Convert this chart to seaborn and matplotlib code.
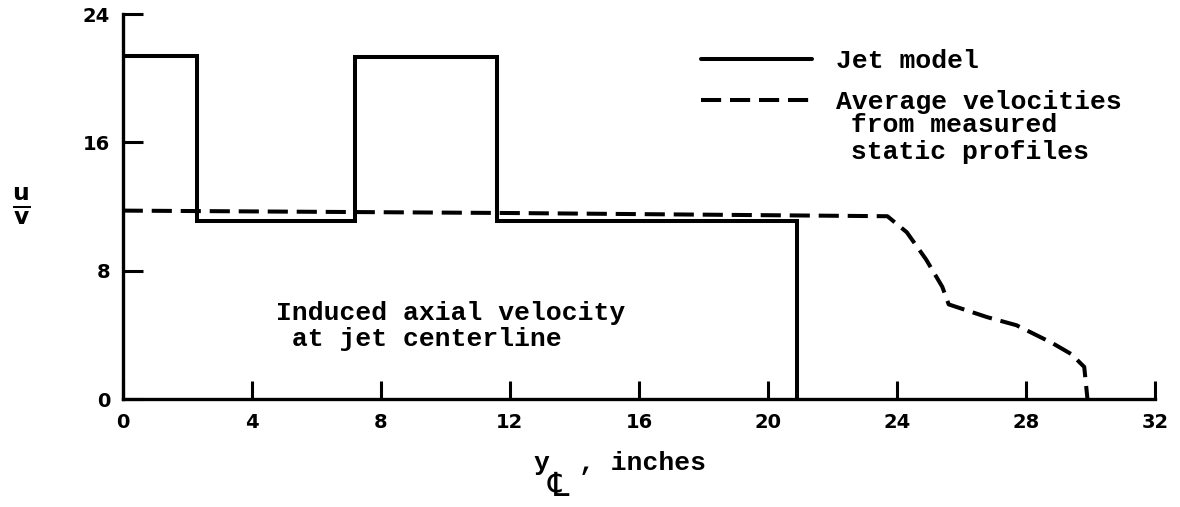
import matplotlib
matplotlib.use('Agg')
import matplotlib.pyplot as plt
import seaborn as sns

# Jet model (step profile), y in inches vs u/v
jet_y = [0.0, 2.3, 7.2, 11.6, 20.9]
jet_u = [21.4, 11.1, 21.3, 11.1, 0.0]

# Average velocities from measured static profiles
avg_y = [0.0, 12.0, 23.7, 24.3, 24.9, 25.4, 25.6, 26.8, 27.7, 28.8, 29.4, 29.8, 29.9]
avg_u = [11.75, 11.6, 11.4, 10.4, 8.7, 7.0, 5.9, 5.1, 4.6, 3.5, 2.8, 2.0, 0.0]

x_ticks = [0, 4, 8, 12, 16, 20, 24, 28, 32]
y_ticks = [0, 8, 16, 24]

sns.set_style('white')
plt.rcParams['font.family'] = ['Liberation Mono', 'DejaVu Sans']
plt.rcParams['text.color'] = 'black'

fig = plt.figure(figsize=(11.8, 5.07), dpi=100)
ax = fig.add_axes([0.104, 0.213, 0.875, 0.759])

lw = 2.9
sns.lineplot(x=jet_y, y=jet_u, ax=ax, color='black', lw=lw, sort=False,
             estimator=None, drawstyle='steps-post', label='Jet model',
             solid_joinstyle='miter')
sns.lineplot(x=avg_y, y=avg_u, ax=ax, color='black', lw=lw, sort=False,
             estimator=None, linestyle=(0, (5, 2.2)),
             label='Average velocities')

ax.set_xlim(0, 32)
ax.set_ylim(0, 24)
ax.set_xticks(x_ticks)
ax.set_yticks(y_ticks)
for side in ['top', 'right']:
    ax.spines[side].set_visible(False)
for side in ['left', 'bottom']:
    ax.spines[side].set_linewidth(2.4)
    ax.spines[side].set_color('black')

ax.tick_params(axis='x', bottom=True, direction='in', length=13, width=2.2, pad=10,
               labelsize=14, colors='black')
ax.tick_params(axis='y', left=True, direction='in', length=14.5, width=2.2, pad=9,
               labelsize=14, colors='black')
for lab in ax.get_xticklabels() + ax.get_yticklabels():
    lab.set_fontfamily('DejaVu Sans')
    lab.set_fontweight('bold')

ax.set_xlabel('')
ax.set_ylabel('')
fig.text(0.452, 0.087, 'y', fontsize=19, fontweight='bold', ha='left', va='center')
fig.text(0.464, 0.041, '\u2104', fontsize=24, family=['DejaVu Sans'], ha='left', va='center')
fig.text(0.491, 0.087, ', inches', fontsize=19, fontweight='bold', ha='left', va='center')
fig.text(0.018, 0.593, r'$\frac{\mathbf{u}}{\mathbf{v}}$', fontsize=24, ha='center', va='center')

ax.text(4.75, 4.55, 'Induced axial velocity\n at jet centerline', fontsize=19,
        fontweight='bold', ha='left', va='center', linespacing=1.15)

leg = ax.legend(loc='upper left', bbox_to_anchor=(0.56, 0.91),
                frameon=False, handlelength=4.2, handletextpad=0.9, borderaxespad=0,
                borderpad=0, labelspacing=0.65,
                prop={'family': 'Liberation Mono', 'size': 19, 'weight': 'bold'})
ax.text(0.69, 0.677, ' from measured\n static profiles', transform=ax.transAxes,
        fontsize=19, fontweight='bold', ha='left', va='center', linespacing=1.15)

fig.savefig('out.png', dpi=100)
